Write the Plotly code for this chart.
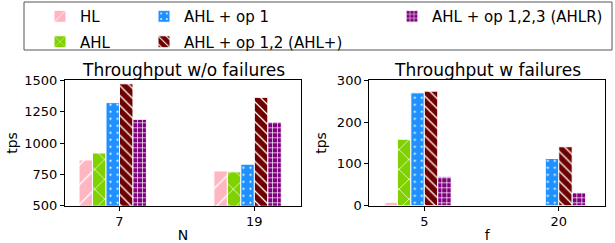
import plotly.graph_objects as go

# ---- data ----
series_names = ["HL", "AHL", "AHL + op 1", "AHL + op 1,2 (AHL+)", "AHL + op 1,2,3 (AHLR)"]
n_labels = ["7", "19"]
f_labels = ["5", "20"]
tps_no_fail = {
    "HL": [865, 777],
    "AHL": [920, 770],
    "AHL + op 1": [1322, 831],
    "AHL + op 1,2 (AHL+)": [1472, 1364],
    "AHL + op 1,2,3 (AHLR)": [1189, 1167],
}
tps_fail = {
    "HL": [8, 0],
    "AHL": [159, 0],
    "AHL + op 1": [270, 113],
    "AHL + op 1,2 (AHL+)": [274, 141],
    "AHL + op 1,2,3 (AHLR)": [69, 31],
}

# ---- styles ----
colors = ["#FFB6C1", "#7FD100", "#1E90FF", "#6E0000", "#800080"]
shapes = ["/", "x", ".", "\\", "+"]
psizes = [14, 14, 7, 7, 5]
psolid = [0.1, 0.1, 0.08, 0.18, 0.25]
legend_ids = ["legend", "legend", "legend2", "legend2", "legend3"]
W = 0.1
FONT = "DejaVu Sans"

fig = go.Figure()
for i, name in enumerate(series_names):
    for panel, (xs, data, xa, ya) in enumerate([
        (n_labels, tps_no_fail, "x", "y"),
        (f_labels, tps_fail, "x2", "y2"),
    ]):
        fig.add_trace(go.Bar(
            x=xs, y=data[name], xaxis=xa, yaxis=ya,
            name=name, legendgroup=name, showlegend=(panel == 0),
            legend=legend_ids[i],
            offset=(i - 3) * W, width=W,
            marker=dict(
                color=colors[i],
                line=dict(color="white", width=1),
                pattern=dict(shape=shapes[i], fgcolor="white", bgcolor=colors[i],
                             size=psizes[i], solidity=psolid[i], fillmode="replace"),
            ),
        ))

axis_common = dict(showline=True, mirror=True, linecolor="black", linewidth=1,
                   ticks="outside", ticklen=4, tickcolor="black", showgrid=False,
                   zeroline=False, automargin=False,
                   tickfont=dict(family=FONT, size=13, color="black"))

H = 243.0
Wd = 615.0
ydom = [1 - 205.7 / H, 1 - 80.3 / H]
leg_common = dict(yanchor="top", xanchor="left", orientation="v", tracegroupgap=3,
                  bgcolor="rgba(0,0,0,0)", borderwidth=0,
                  font=dict(family=FONT, size=15))
leg_y = 1.0
fig.update_layout(
    width=615, height=243,
    margin=dict(l=0, r=0, t=0, b=0, autoexpand=False),
    paper_bgcolor="white", plot_bgcolor="white",
    barmode="overlay",
    font=dict(family=FONT, color="black"),
    xaxis=dict(domain=[65 / Wd, 301 / Wd], type="category", range=[-0.404, 1.346],
               title=dict(text="N", font=dict(family=FONT, size=14), standoff=2),
               anchor="y", **axis_common),
    yaxis=dict(domain=ydom, range=[500, 1500], tickvals=[500, 750, 1000, 1250, 1500],
               title=dict(text="tps", font=dict(family=FONT, size=14), standoff=3),
               anchor="x", **axis_common),
    xaxis2=dict(domain=[369.3 / Wd, 605 / Wd], type="category", range=[-0.409, 1.344],
                title=dict(text="f", font=dict(family=FONT, size=14), standoff=2),
                anchor="y2", **axis_common),
    yaxis2=dict(domain=ydom, range=[0, 300], tickvals=[0, 100, 200, 300],
                title=dict(text="tps", font=dict(family=FONT, size=14), standoff=6),
                anchor="x2", **axis_common),
    legend=dict(x=40 / Wd, y=leg_y, **leg_common),
    legend2=dict(x=144 / Wd, y=leg_y, **leg_common),
    legend3=dict(x=392 / Wd, y=leg_y, **leg_common),
    shapes=[dict(type="rect", xref="paper", yref="paper",
                 x0=24 / Wd, x1=612 / Wd, y0=1 - 50 / H, y1=1 - 2 / H,
                 line=dict(color="#555555", width=1), fillcolor="rgba(0,0,0,0)")],
    annotations=[
        dict(text="Throughput w/o failures", x=(65 + 301) / 2 / Wd, y=ydom[1],
             xref="paper", yref="paper", xanchor="center", yanchor="bottom",
             showarrow=False, yshift=-2, font=dict(family=FONT, size=17)),
        dict(text="Throughput w failures", x=(369.3 + 605) / 2 / Wd, y=ydom[1],
             xref="paper", yref="paper", xanchor="center", yanchor="bottom",
             showarrow=False, yshift=-2, font=dict(family=FONT, size=17)),
    ],
)

fig.write_html("out.html", config={"displayModeBar": False},
               post_script="document.body.style.margin='0px';")
